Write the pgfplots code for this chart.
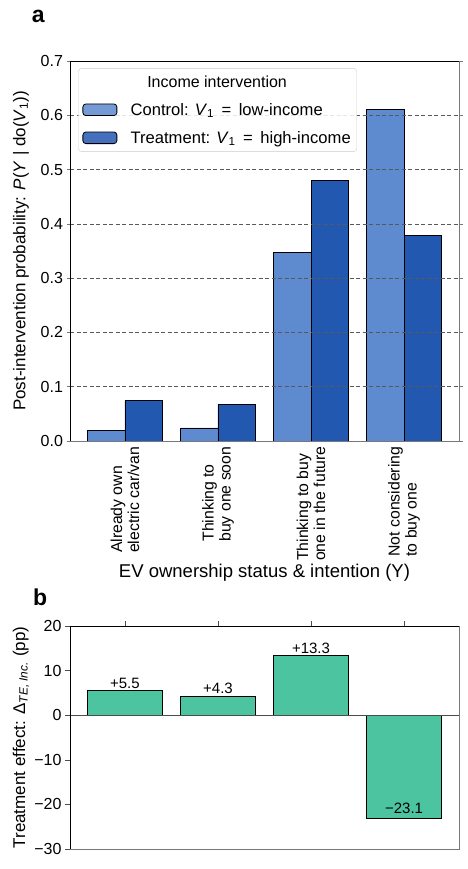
\documentclass[border=0pt]{standalone}
\usepackage{pgfplots}
\pgfplotsset{compat=1.18}
\usepackage{fontspec}
\setmainfont{Liberation Sans}
\definecolor{ctrl}{RGB}{94,139,208}
\definecolor{treat}{RGB}{35,88,177}
\definecolor{evteal}{RGB}{76,196,160}
\definecolor{spinegray}{RGB}{120,120,120}
\newcommand{\tickfont}{\fontsize{16}{19}\selectfont}
\newcommand{\labfont}{\fontsize{17}{20}\selectfont}
\newcommand{\legfont}{\fontsize{16.6}{19}\selectfont}
\begin{document}
\begin{tikzpicture}
\path[use as bounding box] (0,0) rectangle (467pt,-869pt);
\node[anchor=base west, font=\fontsize{23}{26}\selectfont\bfseries, inner sep=0pt] at (31.7pt,-22.7pt) {a};
\node[anchor=base west, font=\fontsize{23}{26}\selectfont\bfseries, inner sep=0pt] at (33pt,-605pt) {b};

\begin{axis}[name=top, at={(70pt,-441pt)}, anchor=south west, scale only axis,
  width=389pt, height=380pt,
  xmin=-0.59, xmax=3.59, ymin=0, ymax=0.7,
  xtick={0,1,2,3},
  xticklabels={{Already own\\electric car/van},{Thinking to\\buy one soon},{Thinking to buy\\one in the future},{Not considering\\to buy one}},
  xticklabel style={rotate=90, anchor=east, align=left, font=\fontsize{15.8}{17}\selectfont, inner sep=2pt},
  major x tick style={draw=none},
  ytick={0,0.1,0.2,0.3,0.4,0.5,0.6,0.7},
  yticklabel style={/pgf/number format/.cd, fixed, fixed zerofill, precision=1, assume math mode=true},
  tick label style={font=\tickfont},
  ymajorgrids, major grid style={dash pattern=on 4pt off 2.5pt, black!65, line width=0.6pt},
  axis on top,
  axis line style={draw=none},
  tick align=outside, major tick length=3.5pt,
  ytick style={spinegray, line width=0.6pt},
  xlabel={EV ownership status \& intention (Y)},
  xlabel style={at={(axis description cs:0.5,-0.347)}, anchor=center, font=\fontsize{18.5}{21}\selectfont},
  ylabel={Post-intervention probability: \textit{P}(\textit{Y} | do(\textit{V}\textsubscript{1}))},
  ylabel style={at={(axis description cs:-0.126,0.5)}, anchor=center, font=\labfont},
  legend style={at={(axis description cs:0.0213,0.981)}, anchor=north west, draw=black!20,
    rounded corners=3pt, fill=white, fill opacity=0.85, text opacity=1, draw opacity=1,
    font=\tickfont, row sep=10.5pt, inner xsep=4pt, inner ysep=5pt},
  legend cell align=left,
]
\addlegendimage{empty legend}
\addlegendentry{\hspace*{16.7pt}Income intervention}
\addlegendimage{legend image code/.code={\draw[fill=ctrl, draw=black, line width=0.8pt] (0pt,-5.8pt) rectangle (34pt,5.8pt); \path[draw=none, fill=none] (0pt,0pt) rectangle (45.7pt,0.1pt);}}
\addlegendentry{\legfont Control: \textit{V}\textsubscript{1}\hspace{0.45em}=\hspace{0.45em}low-income}
\addlegendimage{legend image code/.code={\draw[fill=treat, draw=black, line width=0.8pt] (0pt,-5.8pt) rectangle (34pt,5.8pt); \path[draw=none, fill=none] (0pt,0pt) rectangle (45.7pt,0.1pt);}}
\addlegendentry{\legfont Treatment: \textit{V}\textsubscript{1}\hspace{0.45em}=\hspace{0.45em}high-income}

\addplot[ybar, bar width=0.4, bar shift=-0.2, fill=ctrl, draw=black, line width=0.8pt, forget plot]
  coordinates {(0,0.020) (1,0.024) (2,0.347) (3,0.610)};
\addplot[ybar, bar width=0.4, bar shift=0.2, fill=treat, draw=black, line width=0.8pt, forget plot]
  coordinates {(0,0.075) (1,0.067) (2,0.480) (3,0.379)};
\end{axis}
\draw[black, line width=0.8pt] (top.south west)--(top.north west)--(top.north east);
\draw[spinegray, line width=0.8pt] (top.north east)--(top.south east)--(top.south west);

\begin{axis}[name=bot, at={(70pt,-849pt)}, anchor=south west, scale only axis,
  width=389pt, height=223pt,
  xmin=-0.59, xmax=3.59, ymin=-30, ymax=20,
  xtick={0,1,2,3}, xticklabels={}, xtick pos=right,
  ytick={-30,-20,-10,0,10,20}, yticklabels={−30,−20,−10,0,10,20}, ytick pos=left,
  tick label style={font=\tickfont},
  tick align=outside, major tick length=5pt,
  tick style={black!70, line width=0.6pt},
  axis line style={draw=none},
  ylabel={Treatment effect: Δ\textsubscript{\textit{TE, Inc.}} (pp)},
  ylabel style={at={(axis description cs:-0.126,0.5)}, anchor=center, font=\labfont},
]
\addplot[ybar, bar width=0.8, fill=evteal, draw=black, line width=0.8pt,
  nodes near coords, point meta=explicit symbolic,
  nodes near coords style={font=\fontsize{15}{17}\selectfont, text=black, inner sep=2pt}]
  table[meta=label] {
x y label
0 5.5 +5.5
1 4.3 +4.3
2 13.3 +13.3
};
\addplot[ybar, bar width=0.8, fill=evteal, draw=black, line width=0.8pt,
  nodes near coords, point meta=explicit symbolic,
  nodes near coords style={font=\fontsize{15}{17}\selectfont, text=black, inner sep=2pt, yshift=2pt}]
  table[meta=label] {
x y label
3 -23.1 −23.1
};
\draw[black!70, line width=0.8pt] (axis cs:-0.59,0) -- (axis cs:3.59,0);
\end{axis}
\draw[black, line width=0.8pt] (bot.south west)--(bot.north west)--(bot.north east);
\draw[spinegray, line width=0.8pt] (bot.north east)--(bot.south east)--(bot.south west);
\end{tikzpicture}
\end{document}
